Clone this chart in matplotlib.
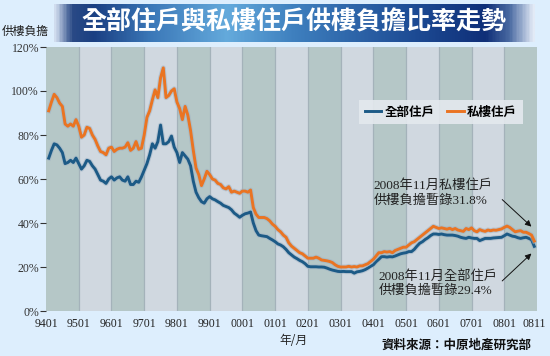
import numpy as np
import matplotlib
matplotlib.use("Agg")
import matplotlib.pyplot as plt
import matplotlib.patheffects as pe
from matplotlib.colors import LinearSegmentedColormap

# ---------------- data ----------------
tick_labels = ["9401", "9501", "9601", "9701", "9801", "9901", "0001", "0101",
               "0201", "0301", "0401", "0501", "0601", "0701", "0801", "0811"]
tick_months = [0, 12, 24, 36, 48, 60, 72, 84, 96, 108, 120, 132, 144, 156, 168, 179]

private_ratio = [
    91, 95, 98.5, 97, 94.5, 93, 85, 84, 85, 84, 87, 84,
    79, 80, 83.5, 83, 80, 78, 75, 72.5, 72, 71, 74, 74.5,
    72.5, 73.5, 74, 74, 74.5, 76.5, 73, 74, 77, 73.5, 74, 80,
    88, 91, 96, 100.5, 97, 106, 110.5, 97, 98, 100, 101, 95,
    92, 87, 93, 89, 82, 73, 65, 62, 57, 60, 63.5, 62,
    60, 59.5, 58, 57.5, 56, 55.5, 56.5, 54, 54.5, 54, 53.5, 54.5,
    54.5, 54, 55, 47, 44, 42.5, 42.5, 42.5, 42, 41, 39.5, 38.5,
    37, 36, 34.5, 33.5, 31, 29.5, 28.5, 27.5, 26.5, 26, 25, 24,
    24, 24, 24.5, 24, 23.2, 23, 22.8, 22.5, 22, 21, 20.3, 20,
    20, 20, 20.3, 20, 20.2, 20, 20.5, 20.5, 21, 21.5, 22.5, 23.5,
    25, 26.5, 26.5, 27, 26.8, 27, 26.5, 27.5, 28, 28.5, 29, 29,
    30, 31, 31.5, 32.5, 33.5, 34.5, 35.5, 36.5, 37.5, 38.5, 38, 37.5,
    37.8, 37.5, 37.2, 37.6, 37, 37.5, 36.8, 36.5, 36.2, 37.5, 37, 37.8,
    36.5, 36, 37, 36.5, 36.2, 36.8, 36.5, 36.8, 36.7, 37, 37.3, 38,
    38.6, 38, 37, 36, 36.3, 36.5, 35.8, 35.8, 35.2, 34.5, 31.8,
]

all_ratio = [
    69.5, 73, 76, 75.5, 74, 72, 67, 67.5, 68.5, 67.5, 69.5, 67,
    64.5, 66, 68.5, 68, 66, 64.5, 62, 59.5, 59, 58, 60, 61,
    59.5, 60.5, 61, 59.5, 59, 61, 57.5, 57.5, 59, 58.5, 61, 64,
    67, 71, 76, 74, 77, 84.5, 76, 76, 77, 79.5, 74.5, 72,
    67.5, 72, 70.5, 69, 66, 59, 54, 51.5, 49.7, 49, 51, 52,
    51, 50.5, 49.7, 49, 48, 47.5, 47, 46, 44.5, 43.6, 42.6, 43.5,
    44.2, 44.5, 45, 40, 36.5, 34.5, 34.2, 34, 33.8, 33, 32.3, 31.5,
    30.5, 30, 29.2, 28, 26.5, 25.5, 24.5, 23.8, 23, 22.4, 21.5, 20.3,
    20.1, 20.1, 20.1, 20, 20, 19.9, 19.5, 19, 18.6, 18.3, 18, 17.9,
    18, 17.9, 17.9, 17.9, 17.2, 17.8, 18, 18.3, 18.8, 19.5, 20.3, 21,
    22.4, 23.5, 24.7, 24.7, 24.5, 24.7, 24.6, 25, 25.5, 26, 26.3, 26.5,
    27, 27, 28, 29.5, 30.8, 31.5, 32.5, 33.3, 34.3, 35, 35, 34.8,
    35, 34.7, 34.5, 34.5, 34.5, 34.3, 34, 33.5, 33.2, 33, 33.5, 33.2,
    33, 33, 32, 32.5, 33, 33, 33, 33.2, 33.3, 33.4, 33.5, 34.2,
    35, 34.5, 34, 33.8, 33.3, 33, 33.3, 33.5, 33, 32.4, 29.4,
]

series_names = ["全部住戶", "私樓住戶"]
title_text = "全部住戶與私樓住戶供樓負擔比率走勢"
ann_private = "2008年11月私樓住戶\n供樓負擔暫錄31.8%"
ann_all = "2008年11月全部住戶\n供樓負擔暫錄29.4%"

# ---------------- style ----------------
CJK = "Noto Sans CJK TC"
SERIF = ["Liberation Serif", CJK]
BG = "#ddeefd"
DARK_BAND = "#b5c7c7"
LIGHT_BAND = "#d0d8e0"
BLUE = "#1c5a86"
ORANGE = "#ea7422"

W, H = 550, 356
fig = plt.figure(figsize=(W / 100, H / 100), dpi=100, facecolor=BG)

# banner
bx0, bx1, by0, by1 = 54, 535, 4, 42
bax = fig.add_axes([bx0 / W, 1 - by1 / H, (bx1 - bx0) / W, (by1 - by0) / H])
cmap = LinearSegmentedColormap.from_list("banner", [
    (0.0, "#d0dcee"), (0.035, "#2a4a86"), (0.08, "#1a3f82"), (0.20, "#3b78b8"),
    (0.36, "#64aadc"), (0.50, "#3e7fbe"), (0.75, "#1d4b94"), (0.90, "#0f2f78"),
    (0.95, "#4a6aa2"), (1.0, "#e2eaf6")])
grad = np.linspace(0, 1, 400)[None, :]
bax.imshow(grad, aspect="auto", cmap=cmap, extent=[0, 1, 0, 1])
bax.set_axis_off()
fig.text(294 / W, 1 - 22 / H, title_text, color="white", fontsize=18,
         fontweight="bold", family=CJK, ha="center", va="center")

# main axes
x0, x1, y0, y1 = 46, 537, 47, 311
ax = fig.add_axes([x0 / W, 1 - y1 / H, (x1 - x0) / W, (y1 - y0) / H])
ax.set_facecolor(BG)
for k in range(15):
    ax.axvspan(12 * k, 12 * (k + 1), color=DARK_BAND if k % 2 == 0 else LIGHT_BAND,
               lw=0, zorder=0)
    if k > 0:
        ax.axvline(12 * k, color="#a4b2ba", lw=0.9, zorder=0.5)

months = np.arange(1, len(all_ratio) + 1)
halo = [pe.Stroke(linewidth=3.6, foreground="#9fb2c4", alpha=0.55), pe.Normal()]
ax.plot(months, all_ratio, color=BLUE, lw=2.1, label=series_names[0],
        path_effects=halo, zorder=3, solid_joinstyle="round")
ax.plot(months, private_ratio, color=ORANGE, lw=2.1, label=series_names[1],
        path_effects=halo, zorder=3, solid_joinstyle="round")

ax.set_xlim(0, 180)
ax.set_ylim(0, 120)
ax.set_yticks([0, 20, 40, 60, 80, 100, 120])
ax.set_yticklabels(["0%", "20%", "40%", "60%", "80%", "100%", "120%"])
ax.set_xticks(tick_months)
ax.set_xticklabels(tick_labels)
ax.tick_params(axis="y", length=4, width=0.8, color="#333333", pad=1,
               labelsize=8.5, labelcolor="#333333")
ax.tick_params(axis="x", length=0, pad=5, labelsize=8.5, labelcolor="#222222")
for lab in ax.get_xticklabels() + ax.get_yticklabels():
    lab.set_family(SERIF)
for s in ax.spines.values():
    s.set_visible(False)

leg = ax.legend(loc="upper left", bbox_to_anchor=(0.625, 0.822), ncol=2,
                frameon=True, fancybox=False, handlelength=1.3, handletextpad=0.3,
                columnspacing=1.0, borderpad=0.45,
                prop={"family": CJK, "weight": "bold", "size": 9})
leg.get_frame().set_facecolor("#e4e9ee")
leg.get_frame().set_edgecolor("none")
leg.get_frame().set_alpha(0.9)
for h in leg.get_lines():
    h.set_path_effects([])

# annotations
ax.text(120, 59.8, ann_private, family=SERIF, fontsize=9.5, color="#222222",
        ha="left", va="top", linespacing=1.25, zorder=5)
ax.annotate("", xy=(178.7, 37.5), xytext=(166.5, 51.5),
            arrowprops=dict(arrowstyle="-|>", color="#111111", lw=0.7,
                            mutation_scale=9), zorder=5)
ax.text(121.8, 18.8, ann_all, family=SERIF, fontsize=9.5, color="#222222",
        ha="left", va="top", linespacing=1.25, zorder=5)
ax.annotate("", xy=(178.7, 27.0), xytext=(166.5, 12.8),
            arrowprops=dict(arrowstyle="-|>", color="#111111", lw=0.7,
                            mutation_scale=9), zorder=5)

# other texts
fig.text(25 / W, 1 - 31 / H, "供樓負擔", family=CJK, fontsize=8.5, color="#222222",
         ha="center", va="center")
fig.text(293 / W, 1 - 340 / H, "年/月", family=CJK, fontsize=8.5, color="#222222",
         ha="center", va="center")
fig.text(457 / W, 1 - 345 / H, "資料來源：中原地產研究部", family=CJK, fontsize=9,
         fontweight="bold", color="#111111", ha="center", va="center")

fig.savefig("out.png", dpi=100, facecolor=BG)
